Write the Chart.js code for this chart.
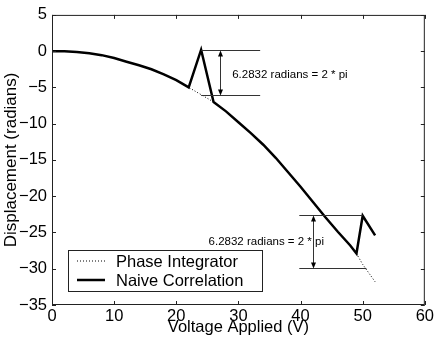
<!DOCTYPE html>
<html>
<head>
<meta charset="utf-8">
<script src="https://cdn.jsdelivr.net/npm/chart.js@4.4.1/dist/chart.umd.min.js"></script>
<style>
  html, body { margin: 0; padding: 0; background: #fff; }
  #wrap { width: 436px; height: 341px; }
</style>
</head>
<body>
<div id="wrap"><canvas id="plot" width="436" height="341"></canvas></div>
<script>
const voltage = [0, 2, 4, 6, 8, 10, 12, 14, 16, 18, 20, 22, 24, 26, 28, 30, 32, 34, 36, 38, 40, 42, 44, 46, 48, 49, 50, 52];
const phaseIntegrator = [0, -0.02, -0.1, -0.3, -0.55, -0.95, -1.45, -1.95, -2.5, -3.2, -4.0, -5.0, -6.0, -7.0, -8.3, -9.8, -11.3, -12.9, -14.7, -16.7, -18.7, -20.8, -22.9, -24.9, -26.8, -27.9, -29.4, -31.8];
const naiveCorrelation = [0, -0.02, -0.1, -0.3, -0.55, -0.95, -1.45, -1.95, -2.5, -3.2, -4.0, -5.0, 0.2, -7.0, -8.3, -9.8, -11.3, -12.9, -14.7, -16.7, -18.7, -20.8, -22.9, -24.9, -26.8, -27.9, -22.7, -25.4];
const xTicks = [0, 10, 20, 30, 40, 50, 60];
const yTicks = [5, 0, -5, -10, -15, -20, -25, -30, -35];
const seriesNames = ['Phase Integrator', 'Naive Correlation'];

// 2*pi brackets: [x from, x to (top), x to (bottom), y top, y bottom, arrow x, label x, label y]
const brackets = [
  [24, 33.5, 33.5, 0.2, -6.05, 27, 29.0, -3.2],
  [39.8, 50, 50.6, -22.6, -29.9, 42, 25.2, -26.3]
];
const bracketText = '6.2832 radians = 2 * pi';

const FONT = '"Liberation Sans", Arial, sans-serif';
const minus = v => String(v).replace('-', '\u2212');

function pts(ys) { return voltage.map((x, i) => ({ x: x, y: ys[i] })); }

const framePlugin = {
  id: 'frame',
  afterDraw(chart) {
    const c = chart.ctx, a = chart.chartArea;
    const xs = chart.scales.x, ys = chart.scales.y;
    c.save();
    c.strokeStyle = '#222';
    c.lineWidth = 1;
    c.strokeRect(a.left + 0.5, a.top + 0.5, a.right - a.left - 1, a.bottom - a.top - 1);
    c.beginPath();
    xTicks.forEach(v => {
      const px = Math.round(xs.getPixelForValue(v)) + 0.5;
      c.moveTo(px, a.bottom); c.lineTo(px, a.bottom - 4);
      c.moveTo(px, a.top); c.lineTo(px, a.top + 4);
    });
    yTicks.forEach(v => {
      const py = Math.round(ys.getPixelForValue(v)) + 0.5;
      c.moveTo(a.left, py); c.lineTo(a.left + 4, py);
      c.moveTo(a.right, py); c.lineTo(a.right - 4, py);
    });
    c.stroke();

    // bracket annotations
    c.strokeStyle = '#333';
    c.fillStyle = '#000';
    brackets.forEach(b => {
      const x0 = xs.getPixelForValue(b[0]);
      const x1 = xs.getPixelForValue(b[1]);
      const x2 = xs.getPixelForValue(b[2]);
      const yt = Math.round(ys.getPixelForValue(b[3])) + 0.5;
      const yb = Math.round(ys.getPixelForValue(b[4])) + 0.5;
      const ax = Math.round(xs.getPixelForValue(b[5])) + 0.5;
      c.beginPath();
      c.moveTo(x0, yt); c.lineTo(x1, yt);
      c.moveTo(x0, yb); c.lineTo(x2, yb);
      c.moveTo(ax, yt + 2); c.lineTo(ax, yb - 2);
      c.stroke();
      c.beginPath();
      c.moveTo(ax, yt); c.lineTo(ax - 2.5, yt + 6); c.lineTo(ax + 2.5, yt + 6); c.closePath();
      c.moveTo(ax, yb); c.lineTo(ax - 2.5, yb - 6); c.lineTo(ax + 2.5, yb - 6); c.closePath();
      c.fill();
      c.font = '11.5px ' + FONT;
      c.textBaseline = 'middle';
      c.textAlign = 'left';
      c.fillText(bracketText, xs.getPixelForValue(b[6]), ys.getPixelForValue(b[7]));
    });

    // legend box
    const lx = 68, ly = 250, lw = 194, lh = 41;
    c.fillStyle = '#fff';
    c.fillRect(lx, ly, lw, lh);
    c.strokeStyle = '#222';
    c.lineWidth = 1;
    c.strokeRect(lx + 0.5, ly + 0.5, lw, lh);
    chart.data.datasets.forEach((ds, i) => {
      const yy = ly + 11 + i * 19;
      c.beginPath();
      c.strokeStyle = ds.borderColor;
      c.lineWidth = ds.borderWidth;
      c.setLineDash(ds.borderDash || []);
      c.moveTo(77, yy); c.lineTo(105, yy);
      c.stroke();
      c.setLineDash([]);
      c.fillStyle = '#000';
      c.font = '16.5px ' + FONT;
      c.textBaseline = 'middle';
      c.fillText(ds.label, 116, yy + 1);
    });
    c.restore();
  }
};

new Chart(document.getElementById('plot'), {
  type: 'line',
  data: {
    datasets: [
      {
        label: seriesNames[0],
        data: pts(phaseIntegrator),
        borderColor: '#000',
        borderWidth: 1,
        borderDash: [1, 2],
        pointRadius: 0,
        fill: false,
        tension: 0
      },
      {
        label: seriesNames[1],
        data: pts(naiveCorrelation),
        borderColor: '#000',
        borderWidth: 2.5,
        pointRadius: 0,
        fill: false,
        tension: 0
      }
    ]
  },
  options: {
    responsive: false,
    animation: false,
    layout: { padding: { left: 0, top: 13, right: 9, bottom: 0 } },
    plugins: { legend: { display: false }, tooltip: { enabled: false } },
    scales: {
      x: {
        type: 'linear',
        min: 0, max: 60,
        afterBuildTicks: s => { s.ticks = xTicks.map(v => ({ value: v })); },
        afterFit: s => { s.height = 36; },
        grid: { display: false, drawTicks: false },
        border: { display: false },
        ticks: { color: '#000', padding: 2, maxRotation: 0, font: { family: FONT, size: 16.5 } },
        title: { display: true, text: 'Voltage Applied (V)', color: '#000', padding: { top: 0, bottom: 4 }, font: { family: FONT, size: 16.5 } }
      },
      y: {
        min: -35, max: 5,
        afterBuildTicks: s => { s.ticks = yTicks.map(v => ({ value: v })); },
        afterFit: s => { s.width = 52; },
        grid: { display: false, drawTicks: false },
        border: { display: false },
        ticks: { color: '#000', padding: 5, callback: v => minus(v), font: { family: FONT, size: 16.5 } },
        title: { display: true, text: 'Displacement (radians)', color: '#000', padding: { top: 1, bottom: 0 }, font: { family: FONT, size: 17 } }
      }
    }
  },
  plugins: [framePlugin]
});
</script>
</body>
</html>
